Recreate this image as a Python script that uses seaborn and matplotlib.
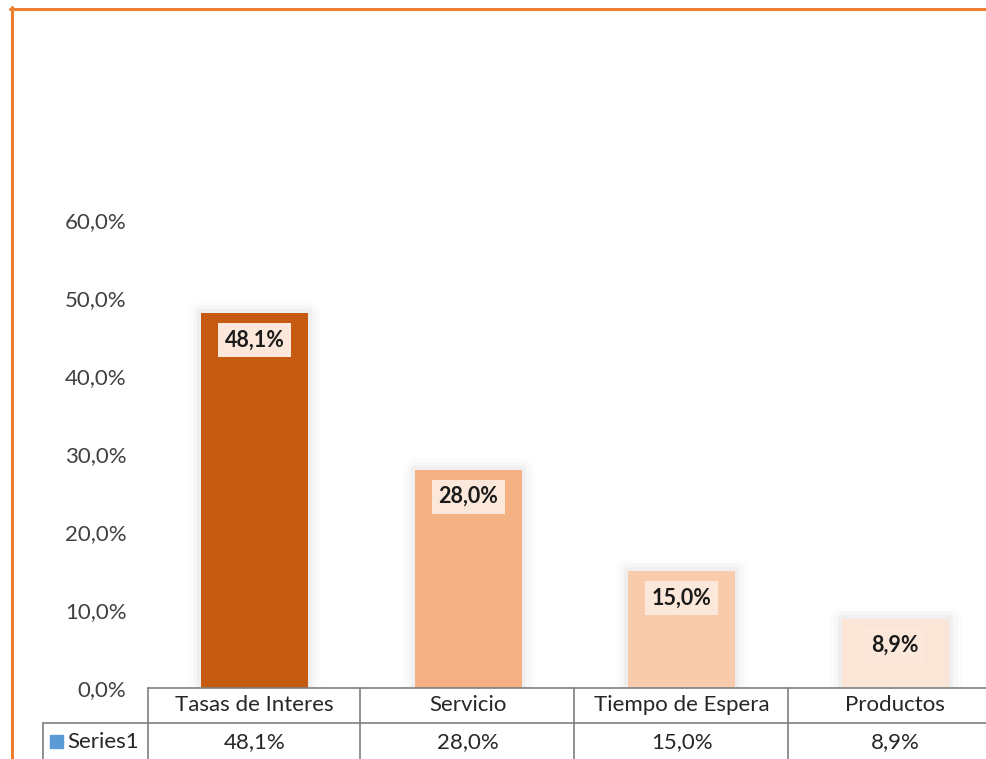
import matplotlib.pyplot as plt
import matplotlib.patheffects as pe
import seaborn as sns
import pandas as pd
from matplotlib.lines import Line2D
from matplotlib.patches import Rectangle

# data
categories = ["Tasas de Interes", "Servicio", "Tiempo de Espera", "Productos"]
values = [0.481, 0.280, 0.150, 0.089]
value_labels = ["48,1%", "28,0%", "15,0%", "8,9%"]
series_name = "Series1"
bar_colors = ["#C55A11", "#F4B183", "#F8CBAD", "#FBE5D6"]
yticks = [0.0, 0.1, 0.2, 0.3, 0.4, 0.5, 0.6]
ytick_labels = ["0,0%", "10,0%", "20,0%", "30,0%", "40,0%", "50,0%", "60,0%"]

sns.set_style("white")
plt.rcParams["font.family"] = ["Lato", "DejaVu Sans"]

W, H = 987, 759
fig = plt.figure(figsize=(W / 100, H / 100), dpi=100)
ax = fig.add_axes([148 / W, (H - 688) / H, 854 / W, 468 / H])

df = pd.DataFrame({"cat": categories, "val": values})
sns.barplot(data=df, x="cat", y="val", hue="cat", palette=bar_colors,
            width=0.5, saturation=1, legend=False, linewidth=0, ax=ax)

# soft shadow round the bars, like the Excel effect
for p in ax.patches:
    p.set_path_effects([
        pe.Stroke(linewidth=18, foreground="#000000", alpha=0.012,
                  joinstyle="round"),
        pe.Stroke(linewidth=12, foreground="#000000", alpha=0.02,
                  joinstyle="round"),
        pe.Stroke(linewidth=6, foreground="#000000", alpha=0.03,
                  joinstyle="round"),
        pe.Normal(),
    ])

ax.set_xlim(-0.5, 3.5)
ax.set_ylim(0, 0.6)
ax.set_xticks([])
ax.set_xlabel("")
ax.set_ylabel("")
ax.set_yticks(yticks)
ax.set_yticklabels(ytick_labels, fontsize=16, color="#404040")
ax.tick_params(axis="y", left=False, pad=12)
for s in ax.spines.values():
    s.set_visible(False)

# data labels inside the bar tops
for i, (v, lab) in enumerate(zip(values, value_labels)):
    ax.annotate(lab, (i, v), xytext=(0, -19.5), textcoords="offset points",
                ha="center", va="center", fontsize=15.5, fontweight="bold",
                color="#1a1a1a",
                bbox=dict(boxstyle="square,pad=0.3", fc="#FCE8DA", ec="none"))

# data table under the chart
xt = ax.get_xaxis_transform()
for i, (cat, lab) in enumerate(zip(categories, value_labels)):
    ax.text(i, -17 / 468, cat, transform=xt, ha="center", va="center",
            fontsize=16, color="#262626", clip_on=False)
    ax.text(i, -54 / 468, lab, transform=xt, ha="center", va="center",
            fontsize=16, color="#262626", clip_on=False)

line_kw = dict(color="#7f7f7f", lw=1.2, transform=fig.transFigure)
fig.add_artist(Line2D([148 / W, 1.02], [1 - 688 / H] * 2, **line_kw))
fig.add_artist(Line2D([43 / W, 1.02], [1 - 723 / H] * 2, **line_kw))
for x in [148, 360, 574, 788]:
    fig.add_artist(Line2D([x / W] * 2, [1 - 688 / H, 0], **line_kw))
fig.add_artist(Line2D([43 / W] * 2, [1 - 723 / H, 0], **line_kw))

fig.add_artist(Rectangle((50 / W, 1 - 748 / H), 13 / W, 13 / H,
                         transform=fig.transFigure, color="#5B9BD5"))
fig.text(67 / W, 1 - 742 / H, series_name, ha="left", va="center",
         fontsize=16, color="#262626")

# orange chart-area border (left and top visible)
border_kw = dict(color="#ED7D31", lw=2.2, transform=fig.transFigure)
fig.add_artist(Line2D([11.5 / W] * 2, [1 - 7 / H, 0], **border_kw))
fig.add_artist(Line2D([10 / W, 1.0], [1 - 8.5 / H] * 2, **border_kw))

fig.savefig("out.png", dpi=100)
